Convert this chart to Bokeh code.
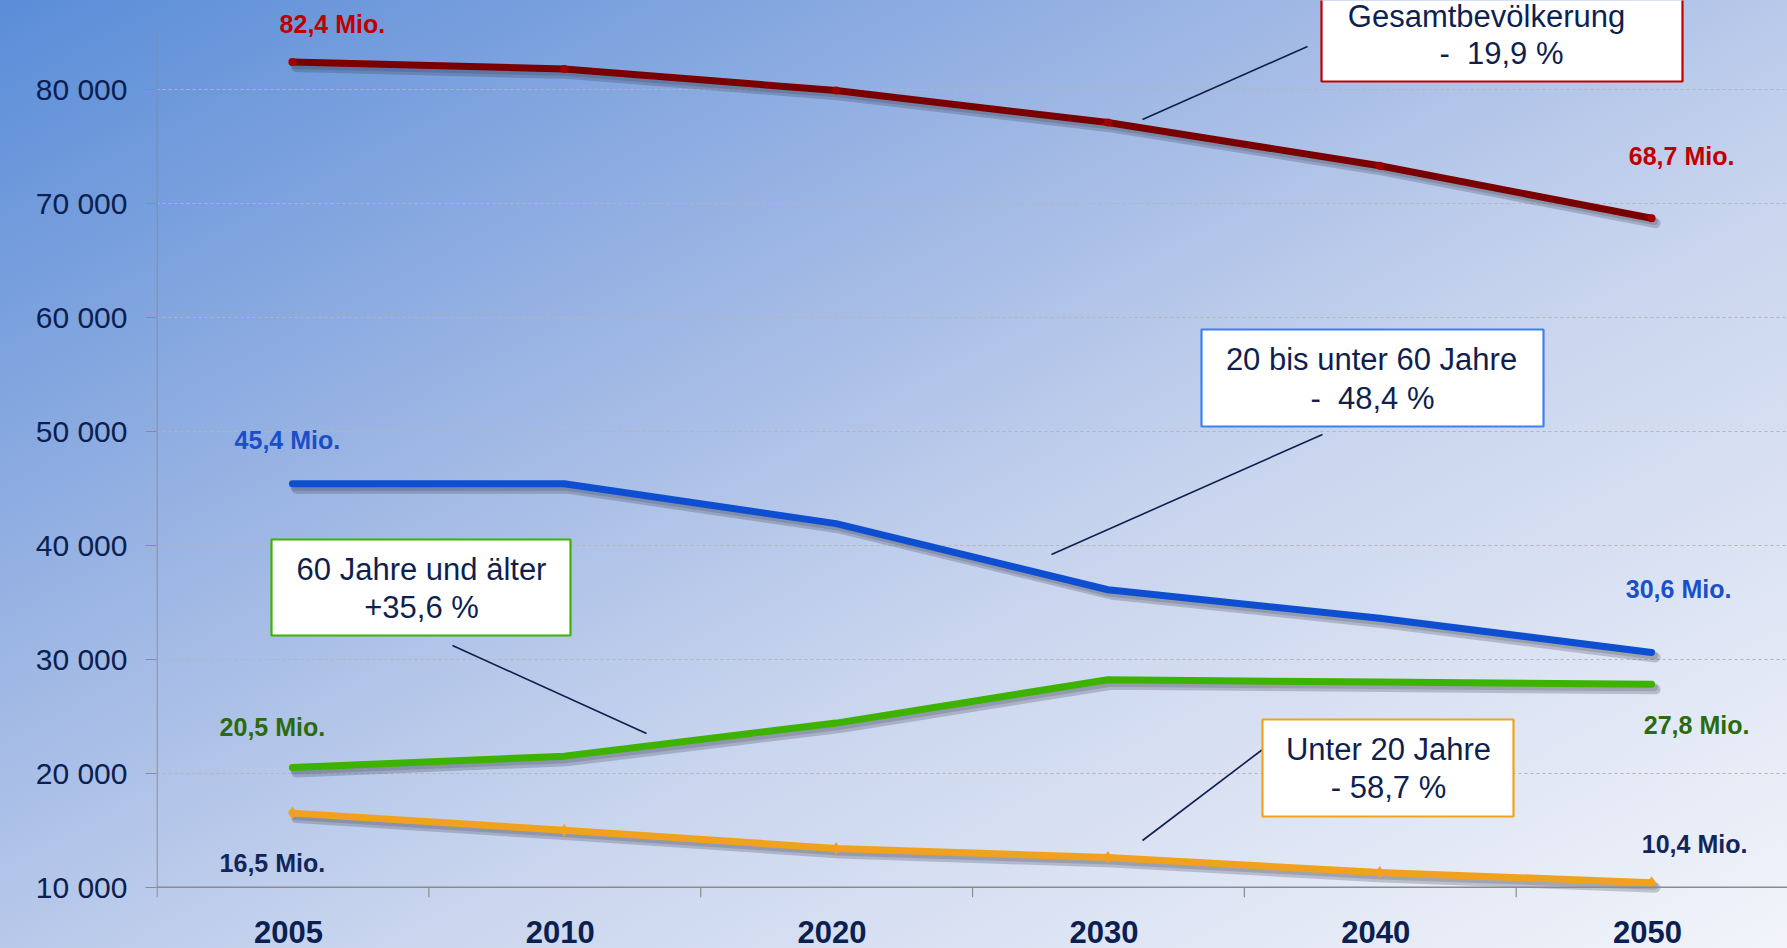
from bokeh.plotting import figure
from bokeh.models import FixedTicker, Span
from bokeh.core.properties import value
from bokeh.embed import file_html
from bokeh.resources import INLINE

# ---------------- data ----------------
years = ["2005", "2010", "2020", "2030", "2040", "2050"]
gesamt = [82400, 81800, 79900, 77100, 73300, 68700]
mitte = [45400, 45400, 41900, 36100, 33600, 30600]
alt = [20500, 21500, 24400, 28200, 28000, 27800]
jung = [16500, 15000, 13400, 12600, 11300, 10400]
y_ticks = [10000, 20000, 30000, 40000, 50000, 60000, 70000, 80000]
box_titles = ["Gesamtbevölkerung", "20 bis unter 60 Jahre", "60 Jahre und älter", "Unter 20 Jahre"]
box_changes = ["-\u00a0 19,9 %", "-\u00a0 48,4 %", "+35,6 %", "- 58,7 %"]

# ---------------- geometry ----------------
W, H = 1787, 948
LEFT = 156
PX_X = (W - LEFT) / len(years)
Y0_PX = 886.7          # pixel row of value 10 000
PX_PER_UNIT = 113.97 / 10000


def dx(px):
    return (px - LEFT) / PX_X


def dy(py):
    return 10000 + (Y0_PX - py) / PX_PER_UNIT


FONT = value("Liberation Sans")
NAVY = "#0A2050"

p = figure(width=W, height=H, x_range=(0, len(years)), y_range=(dy(H), dy(0)),
           x_axis_location=None, output_backend="svg", toolbar_location=None,
           min_border_left=LEFT, min_border_right=0, min_border_top=0, min_border_bottom=0,
           background_fill_color=None, border_fill_color=None, outline_line_color=None)
p.styles = {"background": "linear-gradient(to bottom right, #5A8DD8 0%, #9DB6E4 35%, #C9D5EE 60%, #F2F4FA 100%)"}

# grid
p.xgrid.visible = False
p.ygrid.ticker = FixedTicker(ticks=y_ticks)
p.ygrid.grid_line_color = "#B5B5B5"
p.ygrid.grid_line_dash = "3 3"
p.ygrid.grid_line_width = 1

# y axis
yax = p.yaxis[0]
yax.ticker = FixedTicker(ticks=y_ticks)
yax.major_label_overrides = {t: f"{t:,}".replace(",", " ") for t in y_ticks}
yax.axis_line_color = None
yax.major_tick_line_color = "#8C8C8C"
yax.major_tick_out = 11
yax.major_tick_in = 0
yax.minor_tick_line_color = None
yax.major_label_standoff = 18
yax.major_label_text_font = "Liberation Sans"
yax.major_label_text_font_size = "30px"
yax.major_label_text_color = NAVY

xs = [i + 0.5 for i in range(len(years))]

# custom axis lines
p.segment(x0=[0.002], y0=[y_ticks[0]], x1=[0.002], y1=[dy(32)], line_color="#8C8C8C", line_width=1.2)
p.add_layout(Span(location=y_ticks[0], dimension="width", line_color="#8C8C8C", line_width=1.5))
bx = list(range(len(years) + 1))
p.segment(x0=[b + 0.002 for b in bx], y0=[y_ticks[0]] * len(bx), x1=[b + 0.002 for b in bx],
          y1=[dy(Y0_PX + 10)] * len(bx), line_color="#8C8C8C", line_width=1.2)
p.text(x=xs, y=[dy(931)] * len(xs), text=years, x_offset=-4, text_font=FONT, text_font_style="bold",
       text_font_size="31px", text_color=NAVY, text_align="center", text_baseline="middle")

# shadows + lines
sdx = dx(LEFT + 4)
sdy = y_ticks[0] - dy(Y0_PX + 5)
series = [
    (gesamt, "#7A0000"),
    (mitte, "#0E4FD2"),
    (alt, "#3DB300"),
    (jung, "#F0A21E"),
]
for vals, col in series:
    p.line([x + sdx for x in xs], [v - sdy for v in vals], line_color="#2A2A3A", line_alpha=0.22,
           line_width=10, line_join="round", line_cap="round")
    p.line([x + sdx * 0.6 for x in xs], [v - sdy * 0.6 for v in vals], line_color="#2A2A3A",
           line_alpha=0.18, line_width=8, line_join="round", line_cap="round")
for vals, col in series:
    p.line(xs, vals, line_color=col, line_width=7, line_join="round", line_cap="round")

p.scatter(xs, gesamt, size=8, marker="circle", fill_color="#A00000", line_color=None)
p.scatter(xs, jung, size=13, marker="diamond", fill_color="#F0A21E", line_color=None)


def mio(v):
    return f"{v / 1000:.1f}".replace(".", ",") + " Mio."


# value labels at the series ends
end_labels = [
    (gesamt, "#C00000", (40, -38), (30, -62)),
    (mitte, "#1A4FC8", (-5, -44), (27, -63)),
    (alt, "#2B6A0E", (-20, -41), (45, 41)),
    (jung, "#13265A", (-20, 50), (43, -39)),
]
for vals, col, off0, off1 in end_labels:
    for xi, vi, off in ((xs[0], vals[0], off0), (xs[-1], vals[-1], off1)):
        p.text(x=[xi], y=[vi], text=[mio(vi)], x_offset=off[0], y_offset=off[1],
               text_font=FONT, text_font_style="bold", text_font_size="25px", text_color=col,
               text_align="center", text_baseline="middle")

# callout boxes: (left, right, top, bottom), line1 center, line2 center, leader
boxes = [
    ((1321, 1682, -20, 81), (1486, 16), (1501, 53), (1307, 46, 1142, 119), "#C00000"),
    ((1201, 1543, 329, 426), (1371, 359), (1372, 398), (1322, 434, 1051, 554), "#3D80F0"),
    ((271, 570, 539, 635), (421, 569), (421, 607), (452, 645, 646, 733), "#3DB300"),
    ((1262, 1513, 719, 816), (1388, 749), (1388, 787), (1262, 749, 1142, 840), "#F0A21E"),
]
for (l, r, t, b), c1, c2, ld, bc in boxes:
    p.segment(x0=[dx(ld[0])], y0=[dy(ld[1])], x1=[dx(ld[2])], y1=[dy(ld[3])],
              line_color="#0F1F4F", line_width=1.6)
for ((l, r, t, b), c1, c2, ld, bc), title, change in zip(boxes, box_titles, box_changes):
    p.quad(left=[dx(l)], right=[dx(r)], top=[dy(t)], bottom=[dy(b)], fill_color="white",
           line_color=bc, line_width=2.2)
    p.text(x=[dx(c1[0])], y=[dy(c1[1])], text=[title], text_font=FONT, text_font_size="31px",
           text_color="#0F1F4F", text_align="center", text_baseline="middle")
    p.text(x=[dx(c2[0])], y=[dy(c2[1])], text=[change], text_font=FONT, text_font_size="31px",
           text_color="#0F1F4F", text_align="center", text_baseline="middle")

open("out.html", "w").write(file_html(p, INLINE))
